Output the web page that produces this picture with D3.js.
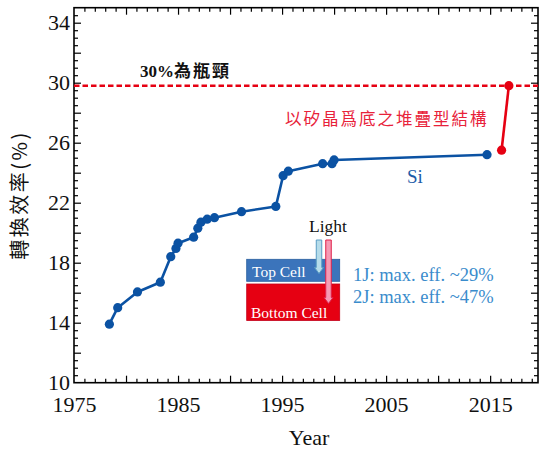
<!DOCTYPE html>
<html>
<head>
<meta charset="utf-8">
<script src="https://cdn.jsdelivr.net/npm/d3@7"></script>
<style>
  html, body { margin: 0; padding: 0; background: #fff; }
  svg { display: block; }
</style>
</head>
<body>
<svg id="chart" width="542" height="449"></svg>
<script>
// Record efficiencies of crystalline silicon single-junction cells
const siYears = [1978.4, 1979.2, 1981.1, 1983.3, 1984.3, 1984.8, 1985.0, 1986.5, 1986.9, 1987.2,
                 1987.8, 1988.5, 1991.1, 1994.4, 1995.1, 1995.6, 1998.9, 1999.8, 2000.0, 2014.7];
const siEff   = [13.9, 15.0, 16.05, 16.7, 18.4, 18.95, 19.3, 19.7, 20.3, 20.7,
                 20.9, 21.0, 21.4, 21.75, 23.8, 24.1, 24.6, 24.6, 24.85, 25.2];

// Silicon-based tandem (stacked) cells
const tandemYears = [2016.1, 2016.8];
const tandemEff   = [25.5, 29.8];

// Single-junction bottleneck level
const limitEff = 29.8;

const xTickLabels = [1975, 1985, 1995, 2005, 2015];
const yTickLabels = [10, 14, 18, 22, 26, 30, 34];

const svg = d3.select("#chart");
const m = { left: 74, right: 538, top: 7.7, bottom: 382.7 };

const x = d3.scaleLinear().domain([1975, 2019.6]).range([m.left, m.right]);
const y = d3.scaleLinear().domain([10, 35]).range([m.bottom, m.top]);

const serif = "'Liberation Serif', 'Times New Roman', serif";
const cjk = "'Noto Sans CJK TC', 'Noto Sans CJK SC', sans-serif";

// ---- axes with inward ticks on all four sides ----
const xMinor = d3.range(1976, 2020, 1).filter(v => v % 5 !== 0);
const xMajor = d3.range(1980, 2020, 5);
const yMinor = d3.range(10.5, 35, 0.5).filter(v => v % 2 !== 0);
const yMajor = d3.range(12, 35, 2);

function tickAxis(axisFn, scale, vals, len, transform) {
  const g = svg.append("g").attr("transform", transform)
    .call(axisFn(scale).tickValues(vals).tickSize(-len).tickFormat(""));
  g.select(".domain").remove();
  g.selectAll(".tick line").attr("stroke", "#000").attr("stroke-width", 1.2);
  return g;
}
tickAxis(d3.axisBottom, x, xMinor, 4, `translate(0,${m.bottom})`);
tickAxis(d3.axisBottom, x, xMajor, 7, `translate(0,${m.bottom})`);
tickAxis(d3.axisTop, x, xMinor, 4, `translate(0,${m.top})`);
tickAxis(d3.axisTop, x, xMajor, 7, `translate(0,${m.top})`);
tickAxis(d3.axisLeft, y, yMinor, 4, `translate(${m.left},0)`);
tickAxis(d3.axisLeft, y, yMajor, 7, `translate(${m.left},0)`);
tickAxis(d3.axisRight, y, yMinor, 4, `translate(${m.right},0)`);
tickAxis(d3.axisRight, y, yMajor, 7, `translate(${m.right},0)`);

// labelled axes
const xAxis = svg.append("g").attr("transform", `translate(0,${m.bottom})`)
  .call(d3.axisBottom(x).tickValues(xTickLabels).tickSize(0).tickPadding(14).tickFormat(d3.format("d")));
xAxis.select(".domain").remove();
xAxis.selectAll("text").attr("font-family", serif).attr("font-size", 22).attr("fill", "#111");

const yAxis = svg.append("g").attr("transform", `translate(${m.left},0)`)
  .call(d3.axisLeft(y).tickValues(yTickLabels).tickSize(0).tickPadding(4).tickFormat(d3.format("d")));
yAxis.select(".domain").remove();
yAxis.selectAll("text").attr("font-family", serif).attr("font-size", 22).attr("fill", "#111");

// frame
svg.append("rect")
  .attr("x", m.left).attr("y", m.top)
  .attr("width", m.right - m.left).attr("height", m.bottom - m.top)
  .attr("fill", "none").attr("stroke", "#000").attr("stroke-width", 1.6);

// axis titles
svg.append("text")
  .attr("x", 309).attr("y", 445).attr("text-anchor", "middle")
  .attr("font-family", serif).attr("font-size", 22).attr("fill", "#111")
  .text("Year");
svg.append("text")
  .attr("transform", "translate(27,195) rotate(-90)").attr("text-anchor", "middle")
  .attr("font-family", cjk).attr("font-size", 20).attr("letter-spacing", 2.5).attr("fill", "#111")
  .text("轉換效率(%)");

// ---- bottleneck line ----
svg.append("line")
  .attr("x1", m.left).attr("x2", m.right)
  .attr("y1", y(limitEff)).attr("y2", y(limitEff))
  .attr("stroke", "#e60012").attr("stroke-width", 2.4).attr("stroke-dasharray", "5.5,3");
const limitLabel = svg.append("text")
  .attr("x", 140).attr("y", 77)
  .attr("font-weight", "bold").attr("font-size", 17).attr("fill", "#111");
limitLabel.append("tspan").attr("font-family", serif).text("30%");
limitLabel.append("tspan").attr("font-family", cjk).attr("letter-spacing", 2).text("為瓶頸");

// ---- series ----
const line = d3.line().x(d => x(d[0])).y(d => y(d[1]));
const siData = d3.zip(siYears, siEff);
const tandemData = d3.zip(tandemYears, tandemEff);

function drawSeries(data, color) {
  svg.append("path").datum(data)
    .attr("d", line).attr("fill", "none")
    .attr("stroke", color).attr("stroke-width", 2.6).attr("stroke-linejoin", "round");
  svg.append("g").selectAll("circle").data(data).join("circle")
    .attr("cx", d => x(d[0])).attr("cy", d => y(d[1])).attr("r", 4.6)
    .attr("fill", color);
}
drawSeries(siData, "#0b52a3");
drawSeries(tandemData, "#e60012");

svg.append("text")
  .attr("x", 407).attr("y", 183)
  .attr("font-family", serif).attr("font-size", 19).attr("fill", "#1c5ca8")
  .text("Si");
svg.append("text")
  .attr("x", 285).attr("y", 125)
  .attr("font-family", cjk).attr("font-size", 16.5).attr("fill", "#e8223a")
  .attr("letter-spacing", 2)
  .text("以矽晶爲底之堆疊型結構");

// ---- tandem cell sketch ----
const sketch = svg.append("g");
sketch.append("rect").attr("x", 246.7).attr("y", 259.3).attr("width", 93).attr("height", 22)
  .attr("fill", "#3b74bb").attr("stroke", "#2a5f9f").attr("stroke-width", 0.8);
sketch.append("rect").attr("x", 246.7).attr("y", 284).attr("width", 93).attr("height", 36.5)
  .attr("fill", "#e60012").attr("stroke", "#c4001a").attr("stroke-width", 0.8);
sketch.append("text").attr("x", 252).attr("y", 277)
  .attr("font-family", serif).attr("font-size", 15.5).attr("fill", "#fff").text("Top Cell");
sketch.append("text").attr("x", 251).attr("y", 317.5)
  .attr("font-family", serif).attr("font-size", 15.5).attr("fill", "#fff").text("Bottom Cell");

function arrow(cx, y0, y1, w, hw, hl, fill, stroke) {
  const p = d3.path();
  p.moveTo(cx - w / 2, y0);
  p.lineTo(cx + w / 2, y0);
  p.lineTo(cx + w / 2, y1 - hl);
  p.lineTo(cx + hw / 2, y1 - hl);
  p.lineTo(cx, y1);
  p.lineTo(cx - hw / 2, y1 - hl);
  p.lineTo(cx - w / 2, y1 - hl);
  p.closePath();
  sketch.append("path").attr("d", p.toString())
    .attr("fill", fill).attr("stroke", stroke).attr("stroke-width", 1);
}
arrow(319, 240, 273.5, 5.5, 9, 6, "#b5dcea", "#5a9cc4");
arrow(328.5, 240, 303.5, 5.5, 9, 6, "#f59ab4", "#e0204a");

sketch.append("text").attr("x", 328).attr("y", 232).attr("text-anchor", "middle")
  .attr("font-family", serif).attr("font-size", 17.5).attr("fill", "#111").text("Light");
sketch.append("text").attr("x", 353).attr("y", 280.5)
  .attr("font-family", serif).attr("font-size", 18.5).attr("fill", "#3a8ccc").text("1J: max. eff. ~29%");
sketch.append("text").attr("x", 353).attr("y", 303)
  .attr("font-family", serif).attr("font-size", 18.5).attr("fill", "#3a8ccc").text("2J: max. eff. ~47%");
</script>
</body>
</html>
